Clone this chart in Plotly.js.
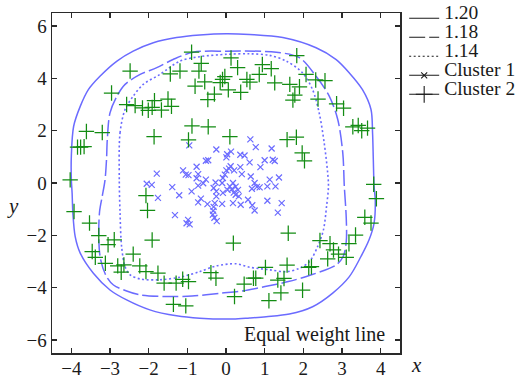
<!DOCTYPE html>
<html>
<head>
<meta charset="utf-8">
<script src="https://cdn.plot.ly/plotly-3.0.1.min.js"></script>
<style>
  html, body { margin: 0; padding: 0; background: #fff; }
  #chart { width: 518px; height: 378px; }
</style>
</head>
<body>
<div id="chart"></div>
<script>
// Cluster 1 (x markers)
const cluster1X = [-0.95,-0.25,0.03,0.13,0.37,0.48,0.63,0.77,1.18,-0.52,
  -0.46,-0.76,-1.79,-1.11,-1.04,-0.97,-0.72,-0.76,0.01,-0.03,
  -0.08,0.08,0.12,0.21,-0.52,-0.59,-0.72,-2.05,-1.92,-1.39,
  -0.10,-0.32,-0.25,-0.89,-1.76,-1.21,-0.65,-0.72,-0.48,-0.32,
  -0.33,-0.34,-0.30,-0.24,-0.10,-1.32,-0.98,-1.02,-0.94,1.00,
  1.21,1.26,0.61,0.89,0.37,0.41,0.64,1.13,1.37,0.74,
  0.80,0.18,0.25,0.31,0.15,0.20,0.25,0.67,0.87,1.07,
  1.28,0.04,0.33,0.57,1.07,0.68,0.38,1.44,0.74,1.34,
  0.01,-0.27,0.10,-0.08,-0.25,-0.29,0.18];
const cluster1Y = [1.44,1.28,1.10,1.20,1.08,1.05,1.67,1.37,1.32,0.85,
  0.87,0.62,0.36,0.48,0.32,0.30,0.34,0.18,0.48,0.32,
  0.19,0.55,0.64,0.48,0.13,-0.01,-0.10,-0.03,-0.07,-0.16,
  0.00,-0.19,-0.32,-0.32,-0.57,-0.47,-0.60,-0.74,-0.81,-0.91,
  -1.06,-1.21,-1.33,-1.46,-0.80,-1.23,-1.41,-1.54,-1.58,0.87,
  0.89,0.84,0.79,0.61,0.61,0.34,0.25,0.13,0.21,0.00,
  -0.15,0.00,-0.14,-0.26,-0.24,-0.37,-0.45,-0.22,-0.17,-0.13,
  -0.13,-0.26,-0.51,-0.64,-0.68,-0.85,-0.83,-0.77,-1.05,-1.13,
  0.98,0.02,-0.13,-0.38,-0.51,-0.77,-0.77];

// Cluster 2 (+ markers)
const cluster2X = [-0.89,-2.48,-2.96,-2.57,-2.35,-2.16,-2.01,-1.91,-1.85,-1.67,
  -1.50,-1.41,-1.44,-1.19,-0.64,-0.70,-0.80,-0.55,-0.47,-0.30,
  -0.15,-0.09,-0.03,0.06,0.13,0.30,0.38,0.54,0.62,0.86,
  0.94,1.17,1.26,1.65,1.90,1.78,1.73,1.83,2.07,2.32,
  2.56,2.38,2.86,3.04,3.28,3.42,3.51,3.66,1.58,1.82,
  1.97,2.03,3.82,3.89,3.59,3.75,1.61,3.35,2.43,2.69,
  3.18,2.78,2.91,3.11,2.63,1.02,1.58,2.14,2.21,0.71,
  0.77,0.47,1.34,1.50,1.42,1.98,0.22,1.11,0.19,-0.88,
  -0.46,-0.97,-1.86,0.10,-3.61,-3.20,-3.84,-3.76,-3.67,-4.03,
  -3.93,-2.07,-2.03,-3.53,-3.29,-2.89,-3.05,-1.91,-3.46,-3.38,
  -3.12,-2.40,-2.80,-2.64,-2.71,-2.23,-2.07,-1.76,-1.60,-1.29,
  -1.12,-0.97,-0.39,-0.26,-1.36,-1.04];
const cluster2Y = [5.00,4.28,3.44,3.00,2.96,2.87,2.78,2.89,3.15,2.79,
  3.21,2.93,4.17,4.28,4.57,4.28,3.70,3.87,3.19,3.40,
  3.84,3.96,4.07,3.56,4.78,4.41,3.47,3.96,3.86,4.15,
  4.53,4.37,3.83,3.77,3.68,3.36,3.17,4.87,4.15,3.94,
  3.91,3.21,3.03,2.86,2.15,2.20,2.00,2.10,1.66,1.75,
  1.15,0.85,-0.05,-0.60,-1.31,-1.53,-1.92,-1.99,-2.20,-2.32,
  -2.32,-2.56,-2.72,-2.84,-2.90,-3.23,-3.14,-3.23,-3.20,-3.64,
  -3.64,-3.87,-3.71,-3.65,-4.20,-4.10,-4.34,-4.50,-2.30,2.18,
  2.15,1.65,1.77,1.77,1.97,1.93,1.37,1.37,1.39,0.12,
  -1.09,-0.48,-1.05,-1.53,-2.01,-2.17,-2.36,-2.18,-2.62,-2.84,
  -3.07,-2.72,-3.17,-3.13,-3.41,-3.17,-3.39,-3.45,-3.83,-3.83,
  -3.68,-3.77,-3.43,-3.64,-4.64,-4.70];

// Equal weight lines at three levels (closed curves)
const level120X = [-4.00,-4.00,-3.94,-3.77,-3.56,-3.26,-2.82,-2.40,-1.88,-1.28,-0.68,0.01,0.61,1.47,2.33,2.85,3.19,3.53,3.75,3.79,3.81,3.83,3.86,3.83,3.70,3.49,3.19,2.76,2.24,1.64,1.04,0.61,0.18,-0.68,-1.28,-1.97,-2.57,-3.00,-3.43,-3.77,-3.90,-3.96,-3.98,-4.00];
const level120Y = [0.13,1.02,2.17,2.93,3.57,4.08,4.66,5.04,5.36,5.56,5.66,5.71,5.68,5.56,5.17,4.72,4.21,3.57,2.81,1.92,0.89,-0.13,-0.64,-1.53,-2.17,-2.81,-3.58,-4.21,-4.73,-5.01,-5.11,-5.16,-5.20,-5.17,-5.08,-4.85,-4.47,-4.09,-3.45,-2.68,-2.05,-1.15,-0.38,0.13];

const level118X = [-3.07,-3.00,-2.82,-2.61,-2.22,-1.79,-1.37,-0.85,0.01,1.30,1.90,2.33,2.67,2.89,3.02,3.06,3.11,3.11,3.03,2.85,2.21,1.61,1.01,0.40,-0.11,-0.88,-1.54,-2.22,-2.57,-2.91,-3.10,-3.25,-3.29,-3.27,-3.20,-3.13,-3.09,-3.07];
const level118Y = [1.66,2.68,3.32,3.77,4.15,4.41,4.72,5.00,5.04,5.00,4.79,4.08,3.32,2.43,1.15,-0.13,-1.34,-2.24,-2.81,-3.13,-3.51,-3.77,-3.96,-4.13,-4.21,-4.32,-4.34,-4.28,-4.13,-3.90,-3.55,-2.87,-2.06,-1.10,-0.50,0.10,0.90,1.66];

const level114X = [-2.76,-2.74,-2.61,-2.40,-2.14,-1.71,-1.19,-0.68,0.01,0.61,1.13,1.56,1.98,2.24,2.41,2.54,2.63,2.65,2.60,2.52,2.37,2.16,1.90,1.56,1.13,0.61,0.27,-0.25,-0.68,-1.19,-1.71,-2.22,-2.48,-2.61,-2.70,-2.74,-2.76];
const level114Y = [0.13,1.92,2.81,3.32,3.77,4.15,4.66,4.83,4.92,4.94,4.88,4.66,4.21,3.57,2.68,1.53,0.38,-0.13,-0.90,-1.79,-2.43,-3.00,-3.26,-3.39,-3.32,-3.22,-3.09,-3.17,-3.39,-3.60,-3.70,-3.67,-3.51,-3.20,-2.43,-1.15,0.13];

const legendNames = ['1.20', '1.18', '1.14', 'Cluster 1', 'Cluster 2'];
const xTicks = [-4, -3, -2, -1, 0, 1, 2, 3, 4];
const yTicks = [-6, -4, -2, 0, 2, 4, 6];

const SERIF = '"Liberation Serif", "Times New Roman", Times, serif';
const BLUE = '#6b6bff';
const GREEN = '#138c13';
const INK = '#1a1a1a';
// legend labels are drawn at 19.5px on a tiny base size so that the text sits on the sample line
const big = s => '<span style="font-size:19.5px">' + s + '</span>';

function curve(xs, ys, dash, width) {
  return {
    x: xs, y: ys, type: 'scatter', mode: 'lines',
    line: { color: BLUE, width: width, dash: dash, shape: 'spline', smoothing: 0.9 },
    showlegend: false, hoverinfo: 'skip'
  };
}

// legend-only entries: black samples, no points on the axes
function legendEntry(name, opts) {
  return Object.assign({ x: [null], y: [null], type: 'scatter', name: big(name), showlegend: true, hoverinfo: 'skip' }, opts);
}

const traces = [
  curve(level120X, level120Y, 'solid', 1.5),
  curve(level118X, level118Y, '16px,4px', 1.5),
  curve(level114X, level114Y, '2px,2.5px', 1.6),
  {
    x: cluster1X, y: cluster1Y, type: 'scatter', mode: 'markers', showlegend: false,
    marker: { symbol: 'x-thin-open', size: 6, color: BLUE, line: { color: BLUE, width: 1.2 } }
  },
  {
    x: cluster2X, y: cluster2Y, type: 'scatter', mode: 'markers', showlegend: false,
    marker: { symbol: 'cross-thin-open', size: 11, color: GREEN, line: { color: GREEN, width: 1.25 } }
  },
  legendEntry(legendNames[0], { mode: 'lines', line: { color: INK, width: 1.1 } }),
  legendEntry(legendNames[1], { mode: 'lines', line: { color: INK, width: 1.1, dash: '16px,4px' } }),
  legendEntry(legendNames[2], { mode: 'lines', line: { color: INK, width: 1.1, dash: '2px,2.5px' } }),
  legendEntry(legendNames[3], { mode: 'lines+markers', line: { color: INK, width: 1.1 },
    marker: { symbol: 'x-thin-open', size: 6, color: INK, line: { color: INK, width: 1.1 } } }),
  legendEntry(legendNames[4], { mode: 'lines+markers', line: { color: INK, width: 1.1 },
    marker: { symbol: 'cross-thin-open', size: 12, color: INK, line: { color: INK, width: 1.1 } } })
];

const axisCommon = {
  showgrid: false, zeroline: false, showline: true, mirror: 'ticks',
  linecolor: '#2a2a2a', linewidth: 1.5, ticks: 'inside', ticklen: 5, tickwidth: 1.2, tickcolor: '#2a2a2a',
  tickfont: { family: SERIF, size: 19, color: INK }, fixedrange: true
};

const layout = {
  width: 518, height: 378,
  margin: { l: 52, r: 118, t: 13, b: 25, pad: 0, autoexpand: false },
  paper_bgcolor: '#fff', plot_bgcolor: '#fff',
  xaxis: Object.assign({}, axisCommon, {
    range: [-4.5, 4.5], tickmode: 'array', tickvals: xTicks, ticklabelstandoff: -2
  }),
  yaxis: Object.assign({}, axisCommon, { range: [-6.5, 6.5], tickmode: 'array', tickvals: yTicks }),
  showlegend: true,
  legend: {
    x: 1.012, xanchor: 'left', y: 1.027, yanchor: 'top',
    font: { family: SERIF, size: 2, color: INK },
    bgcolor: 'rgba(0,0,0,0)', borderwidth: 0, traceorder: 'normal', itemwidth: 30
  },
  annotations: [
    { xref: 'paper', yref: 'paper', x: 1.048, y: -0.035, xanchor: 'center', yanchor: 'middle',
      text: '<i>x</i>', showarrow: false, font: { family: SERIF, size: 21, color: INK } },
    { xref: 'paper', yref: 'paper', x: -0.112, y: 0.432, xanchor: 'center', yanchor: 'middle',
      text: '<i>y</i>', showarrow: false, font: { family: SERIF, size: 21, color: INK } },
    { xref: 'paper', yref: 'paper', x: 0.963, y: 0.053, xanchor: 'right', yanchor: 'middle',
      text: 'Equal weight line', showarrow: false, font: { family: SERIF, size: 20, color: INK } }
  ]
};

Plotly.newPlot('chart', traces, layout, { displayModeBar: false, staticPlot: true });
</script>
</body>
</html>
